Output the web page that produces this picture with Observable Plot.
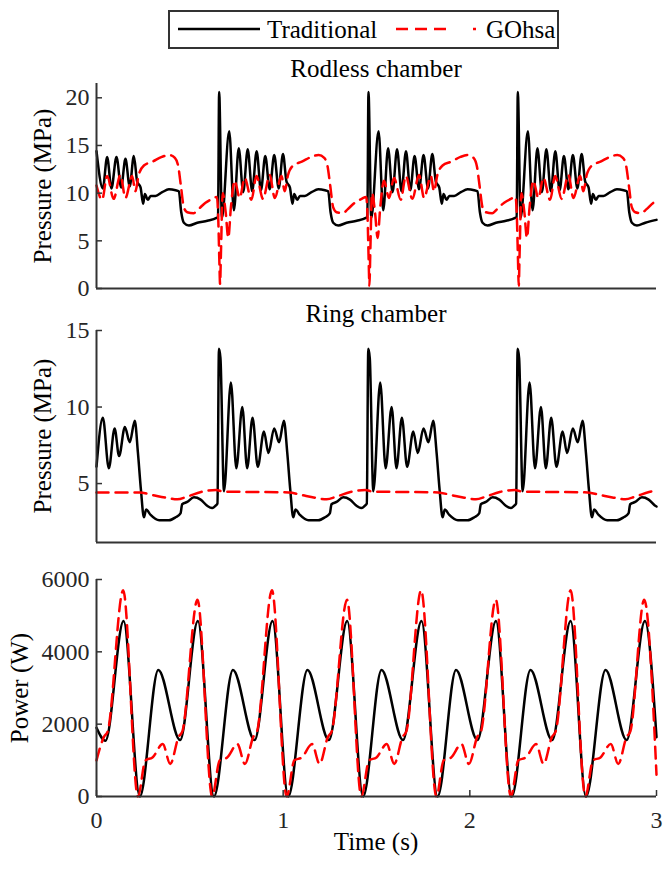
<!DOCTYPE html>
<html><head><meta charset="utf-8">
<script src="https://cdn.jsdelivr.net/npm/d3@7"></script>
<script src="https://cdn.jsdelivr.net/npm/@observablehq/plot@0.6"></script>
<style>
body{margin:0;background:#fff;}
#wrap{position:relative;width:668px;height:869px;overflow:hidden;background:#fff;font-family:"Liberation Serif","Times New Roman",serif;}
.pane{position:absolute;left:0;}
#overlay{position:absolute;left:0;top:0;pointer-events:none;}
</style></head><body><div id="wrap"></div>
<script>
// ---------- series names ----------
const seriesNames = ["Traditional", "GOhsa"];
const panelTitles = ["Rodless chamber", "Ring chamber"];
const timeTicks = [0, 1, 2, 3];
const rodlessTicks = [0, 5, 10, 15, 20];
const ringTicks = [5, 10, 15];
const powerTicks = [0, 2000, 4000, 6000];

// ---------- Rodless chamber, Traditional (MPa) ----------
const rodlessTradT = [0.000,0.034,0.057,0.080,0.107,0.132,0.155,0.178,0.200,
 0.218,0.236,0.250,0.259,0.275,0.290,0.316,0.352,0.388,0.424,0.441,0.454,0.468,0.495,0.540,0.594,0.643,0.651,
 0.657,0.672,0.711,0.736,0.762,0.786,0.810,0.834,0.858,0.881,0.904,0.928,0.952,0.976,0.999,
 1.018,1.036,1.050,1.059,1.075,1.090,1.116,1.152,1.188,1.224,1.241,1.254,1.268,1.295,1.340,1.394,1.443,1.451,
 1.457,1.472,1.511,1.536,1.562,1.586,1.610,1.634,1.658,1.681,1.704,1.728,1.752,1.776,1.799,
 1.818,1.836,1.850,1.859,1.875,1.890,1.916,1.952,1.988,2.024,2.041,2.054,2.068,2.095,2.140,2.194,2.243,2.251,
 2.257,2.272,2.311,2.336,2.362,2.386,2.410,2.434,2.458,2.481,2.504,2.528,2.552,2.576,2.599,
 2.618,2.636,2.650,2.659,2.675,2.690,2.716,2.752,2.788,2.824,2.841,2.854,2.868,2.895,2.940,3.000];
const rodlessTradP = [14.4,10.5,13.8,10.5,13.8,10.6,13.6,10.7,13.9,
 11.2,10.6,8.9,9.9,9.3,9.7,9.7,10.1,10.4,10.3,10.2,8.0,6.9,6.6,6.9,7.1,7.4,7.5,
 20.6,7.4,16.5,8.2,14.7,10.1,14.6,10.2,14.4,10.3,13.9,10.4,14.0,10.5,14.1,
 11.2,10.6,8.9,9.9,9.3,9.7,9.7,10.1,10.4,10.3,10.2,8.0,6.9,6.6,6.9,7.1,7.4,7.5,
 20.6,7.4,16.5,8.2,14.7,10.1,14.6,10.2,14.4,10.3,13.9,10.4,14.0,10.5,14.1,
 11.2,10.6,8.9,9.9,9.3,9.7,9.7,10.1,10.4,10.3,10.2,8.0,6.9,6.6,6.9,7.1,7.4,7.5,
 20.6,7.4,16.5,8.2,14.7,10.1,14.6,10.2,14.4,10.3,13.9,10.4,14.0,10.5,14.1,
 11.2,10.6,8.9,9.9,9.3,9.7,9.7,10.1,10.4,10.3,10.2,8.0,6.9,6.6,6.9,7.2];

// ---------- Rodless chamber, GOhsa (MPa) ----------
const rodlessGoT = [0.000,0.030,0.057,0.092,0.128,0.155,0.191,0.208,0.226,0.254,0.300,0.350,0.390,0.420,0.438,0.452,0.468,0.486,0.520,0.545,0.584,0.620,
 0.645,0.652,0.658,0.662,0.667,0.676,0.692,0.706,0.720,0.740,0.767,0.794,0.830,0.857,0.892,0.928,0.955,0.991,1.008,1.026,1.054,1.100,1.150,1.190,1.220,1.238,1.252,1.268,1.286,1.320,1.345,1.384,1.420,
 1.445,1.452,1.458,1.462,1.467,1.476,1.492,1.506,1.520,1.540,1.567,1.594,1.630,1.657,1.692,1.728,1.755,1.791,1.808,1.826,1.854,1.900,1.950,1.990,2.020,2.038,2.052,2.068,2.086,2.120,2.145,2.184,2.220,
 2.245,2.252,2.258,2.262,2.267,2.276,2.292,2.306,2.320,2.340,2.367,2.394,2.430,2.457,2.492,2.528,2.555,2.591,2.608,2.626,2.654,2.700,2.750,2.790,2.820,2.838,2.852,2.868,2.886,2.920,2.945,2.984,3.000];
const rodlessGoP = [10.8,9.3,11.8,9.4,11.9,9.5,11.8,10.2,11.9,12.9,13.3,13.8,14.0,13.7,12.8,10.8,8.5,8.0,7.9,8.3,9.0,9.4,
 9.6,7.5,3.0,0.5,4.0,10.0,8.0,5.3,8.5,11.3,9.5,11.6,9.3,11.8,9.4,11.9,9.5,11.8,10.2,11.9,12.9,13.3,13.8,14.0,13.7,12.8,10.8,8.5,8.0,7.9,8.3,9.0,9.4,
 9.6,7.5,3.0,0.3,4.0,10.0,8.0,5.3,8.5,11.3,9.5,11.6,9.3,11.8,9.4,11.9,9.5,11.8,10.2,11.9,12.9,13.3,13.8,14.0,13.7,12.8,10.8,8.5,8.0,7.9,8.3,9.0,9.4,
 9.6,7.5,3.0,0.3,4.0,10.0,8.0,5.3,8.5,11.3,9.5,11.6,9.3,11.8,9.4,11.9,9.5,11.8,10.2,11.9,12.9,13.3,13.8,14.0,13.7,12.8,10.8,8.5,8.0,7.9,8.3,9.0,9.2];

// ---------- Ring chamber, Traditional (MPa) ----------
const ringTradT = [0.000,0.034,0.066,0.097,0.121,0.152,0.178,0.205,0.222,0.238,0.254,0.266,0.290,0.336,0.388,0.424,0.450,0.459,0.486,0.522,0.558,0.593,0.620,0.638,0.648,
 0.656,0.664,0.683,0.720,0.749,0.781,0.807,0.836,0.864,0.897,0.921,0.952,0.978,1.004,1.022,1.038,1.054,1.066,1.090,1.136,1.188,1.224,1.250,1.259,1.286,1.322,1.358,1.393,1.420,1.438,1.448,
 1.456,1.464,1.483,1.520,1.549,1.581,1.607,1.636,1.664,1.697,1.721,1.752,1.778,1.804,1.822,1.838,1.854,1.866,1.890,1.936,1.988,2.024,2.050,2.059,2.086,2.122,2.158,2.193,2.220,2.238,2.248,
 2.256,2.264,2.283,2.320,2.349,2.381,2.407,2.436,2.464,2.497,2.521,2.552,2.578,2.604,2.622,2.638,2.654,2.666,2.690,2.736,2.788,2.824,2.850,2.859,2.886,2.922,2.958,2.993,3.000];
const ringTradP = [6.1,9.3,6.0,8.6,6.8,8.7,7.7,9.1,7.0,4.6,2.8,3.3,2.95,2.6,2.6,2.8,3.05,3.65,3.8,4.1,3.95,3.55,3.4,3.56,3.7,
 13.8,13.2,4.5,11.6,6.0,10.0,6.0,9.3,6.1,8.4,7.0,8.6,7.7,9.1,7.0,4.6,2.8,3.3,2.95,2.6,2.6,2.8,3.05,3.65,3.8,4.1,3.95,3.55,3.4,3.56,3.7,
 13.8,13.2,4.5,11.6,6.0,10.0,6.0,9.3,6.1,8.4,7.0,8.6,7.7,9.1,7.0,4.6,2.8,3.3,2.95,2.6,2.6,2.8,3.05,3.65,3.8,4.1,3.95,3.55,3.4,3.56,3.7,
 13.8,13.2,4.5,11.6,6.0,10.0,6.0,9.3,6.1,8.4,7.0,8.6,7.7,9.1,7.0,4.6,2.8,3.3,2.95,2.6,2.6,2.8,3.05,3.65,3.8,4.1,3.95,3.55,3.5];

// ---------- Ring chamber, GOhsa (MPa) ----------
const ringGoT = [0.000,0.230,0.300,0.370,0.433,0.486,0.560,0.640,0.680,1.030,1.100,1.170,1.233,1.286,1.360,1.440,1.480,1.830,1.900,1.970,2.033,2.086,2.160,2.240,2.280,2.630,2.700,2.770,2.833,2.886,2.960,3.000];
const ringGoP = [4.42,4.42,4.25,4.08,3.97,4.15,4.45,4.58,4.48,4.42,4.25,4.08,3.97,4.15,4.45,4.58,4.48,4.42,4.25,4.08,3.97,4.15,4.45,4.58,4.48,4.42,4.25,4.08,3.97,4.15,4.45,4.55];

// ---------- Power, Traditional (W) ----------
const powerTradT = [0.000,0.048,0.145,0.232,0.331,0.448,0.543,0.629,0.731,0.847,0.943,1.027,1.130,1.245,1.343,1.428,1.527,1.642,1.741,1.827,1.926,2.041,2.140,2.224,2.325,2.441,2.540,2.622,2.727,2.840,2.938,3.000];
const powerTradW = [1900,1540,4850,0,3500,1560,4850,0,3500,1560,4850,0,3500,1560,4850,0,3500,1560,4850,0,3500,1560,4850,0,3500,1560,4850,0,3500,1560,4850,1640];

// ---------- Power, GOhsa (W) ----------
const powerGoT = [0.000,0.040,0.060,0.143,0.222,0.262,0.300,0.355,0.395,0.440,0.460,0.541,0.620,0.660,0.700,0.755,0.795,0.840,0.860,0.940,
 1.019,1.060,1.100,1.155,1.195,1.240,1.260,1.342,1.419,1.460,1.500,1.555,1.595,1.640,1.660,1.739,1.821,1.860,1.900,1.955,1.995,2.040,2.060,2.139,
 2.220,2.260,2.300,2.355,2.395,2.440,2.460,2.540,2.619,2.660,2.700,2.755,2.795,2.840,2.860,2.934,3.000];
const powerGoW = [1000,1650,1800,5700,0,1000,1080,1450,900,1650,1800,5440,0,1000,1080,1450,900,1650,1800,5700,
 0,1000,1080,1450,900,1650,1800,5440,0,1000,1080,1450,900,1650,1800,5700,0,1000,1080,1450,900,1650,1800,5440,
 0,1000,1080,1450,900,1650,1800,5700,0,1000,1080,1450,900,1650,1800,5440,600];

// ---------- build ----------
const fontFamily = "'Liberation Serif', 'Times New Roman', serif";
const rows = (t, v) => t.map((x, i) => ({t: x, v: v[i]}));
const axisColor = "#333333";
const textColor = "#262626";
const wrap = document.getElementById("wrap");

function panel({top, height, mTop, mBottom, yDomain, yTicks, trad, go, showX}) {
  const marks = [
    Plot.line(trad, {x: "t", y: "v", stroke: "#000000", strokeWidth: 2.5, curve: "monotone-x"}),
    Plot.line(go, {x: "t", y: "v", stroke: "#ff0000", strokeWidth: 2.5, strokeDasharray: "12,7", curve: "monotone-x"}),
    Plot.ruleX([0], {stroke: axisColor, strokeWidth: 2}),
    Plot.ruleY([yDomain[0]], {stroke: axisColor, strokeWidth: 2}),
    Plot.axisY(yTicks, {tickSize: -6, tickPadding: 13, stroke: axisColor, strokeWidth: 1.5, fill: textColor,
      fontSize: 24, label: null, tickFormat: d => String(d)})
  ];
  if (showX) marks.push(Plot.axisX(timeTicks, {tickSize: -6, tickPadding: 20, stroke: axisColor, strokeWidth: 1.5,
      fill: textColor, fontSize: 24, label: null, tickFormat: d => String(d)}));
  const p = Plot.plot({
    width: 668, height, marginLeft: 96, marginRight: 12, marginTop: mTop, marginBottom: mBottom,
    x: showX ? {domain: [0, 3]} : {domain: [0, 3], axis: null},
    y: {domain: yDomain},
    style: {fontFamily, fontSize: "24px", background: "transparent", overflow: "visible"},
    marks
  });
  const d = document.createElement("div");
  d.className = "pane";
  d.style.top = top + "px";
  d.appendChild(p);
  wrap.appendChild(d);
}

panel({top: 60, height: 240, mTop: 23, mBottom: 12, yDomain: [0, 21.5], yTicks: rodlessTicks,
  trad: rows(rodlessTradT, rodlessTradP), go: rows(rodlessGoT, rodlessGoP), showX: false});
panel({top: 310, height: 245, mTop: 20, mBottom: 13, yDomain: [1.15, 15], yTicks: ringTicks,
  trad: rows(ringTradT, ringTradP), go: rows(ringGoT, ringGoP), showX: false});
panel({top: 560, height: 300, mTop: 19, mBottom: 64, yDomain: [0, 6000], yTicks: powerTicks,
  trad: rows(powerTradT, powerTradW), go: rows(powerGoT, powerGoW), showX: true});

// ---------- overlay: titles, labels, legend ----------
const svg = d3.select(wrap).append("svg").attr("id", "overlay").attr("width", 668).attr("height", 869)
  .style("font-family", fontFamily).attr("font-size", 25);
const txt = (x, y, s, anchor = "middle", rot = 0) => {
  const t = svg.append("text").attr("text-anchor", anchor).attr("fill", "#000").text(s);
  if (rot) t.attr("transform", `translate(${x},${y}) rotate(${rot})`); else t.attr("x", x).attr("y", y);
  return t;
};
txt(376, 77, panelTitles[0]);
txt(376, 322, panelTitles[1]);
txt(51, 186, "Pressure (MPa)", "middle", -90);
txt(51, 436, "Pressure (MPa)", "middle", -90);
txt(28, 688, "Power (W)", "middle", -90);
txt(376, 850, "Time (s)");
// legend
svg.append("rect").attr("x", 169).attr("y", 11).attr("width", 389).attr("height", 37)
  .attr("fill", "#fff").attr("stroke", axisColor).attr("stroke-width", 2);
svg.append("line").attr("x1", 178).attr("x2", 260).attr("y1", 29).attr("y2", 29)
  .attr("stroke", "#000").attr("stroke-width", 2.5);
txt(267, 38, seriesNames[0], "start");
svg.append("line").attr("x1", 396).attr("x2", 478).attr("y1", 29).attr("y2", 29)
  .attr("stroke", "#ff0000").attr("stroke-width", 2.5).attr("stroke-dasharray", "12,7,12,7,12,27,3,100");
txt(486, 38, seriesNames[1], "start");
</script></body></html>
